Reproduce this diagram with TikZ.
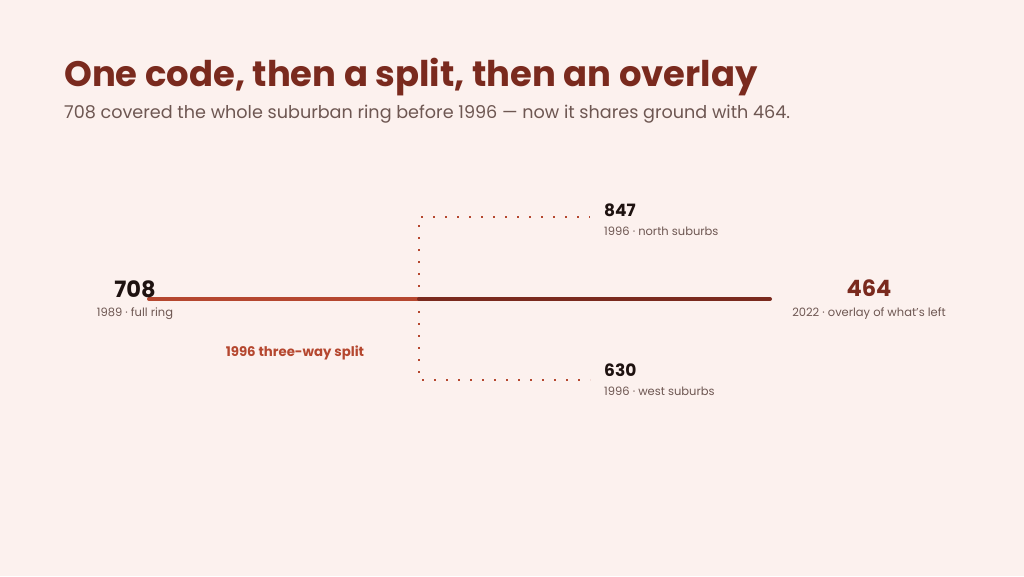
\documentclass[tikz,border=0pt]{standalone}
\usepackage{fontspec}
\setmainfont{Poppins}
\usetikzlibrary{positioning}
\definecolor{bgc}{HTML}{FCF1EE}
\definecolor{darkred}{HTML}{7A2A1E}
\definecolor{rust}{HTML}{B5472F}
\definecolor{subgray}{HTML}{6E5752}
\definecolor{ink}{HTML}{1E1210}
\tikzset{
  code/.style={font=\fontsize{22.5}{25}\selectfont\bfseries,text=ink,inner sep=0pt},
  note/.style={font=\fontsize{11.5}{13}\selectfont,text=subgray,inner sep=0pt},
  dots/.style={rust,line width=2.4pt,dash pattern=on 2.4pt off 9.6pt}
}
\begin{document}
\begin{tikzpicture}[x=1pt,y=-1pt]
  \fill[bgc] (0,0) rectangle (1024,576);
  \useasboundingbox (0,0) rectangle (1024,576);
  % heading
  \node[anchor=base west,inner sep=0pt,text=darkred,font=\fontsize{35.4}{40}\selectfont\bfseries] (title) at (64,86) {One code, then a split, then an overlay};
  \node[anchor=base west,inner sep=0pt,text=subgray,font=\fontsize{17.6}{20}\selectfont] (sub) at (64,118) {708 covered the whole suburban ring before 1996 — now it shares ground with 464.};
  % timeline
  \coordinate (start) at (149,299);
  \coordinate (split) at (419,299);
  \coordinate (end) at (770,299);
  \coordinate (north) at (419,217);
  \coordinate (northend) at (590,217);
  \coordinate (west) at (419,380);
  \coordinate (westend) at (590,380);
  \draw[dots] (split) -- (north) -- (northend);
  \draw[dots] (split) -- (west) -- (westend);
  \draw[rust,line width=4pt,line cap=round] (start) -- (split);
  \draw[darkred,line width=4pt,line cap=round] (split) -- (end);
  % labels
  \node[code,anchor=base] (c708) at (135,297) {708};
  \node[note,anchor=base] (n708) at (135,316) {1989 · full ring};
  \node[anchor=base,inner sep=0pt,text=rust,font=\fontsize{13.3}{15}\selectfont\bfseries] (lsplit) at (295,356) {1996 three-way split};
  \node[code,anchor=base west,font=\fontsize{17}{20}\selectfont\bfseries] (c847) at (604,216) {847};
  \node[note,anchor=base west] (n847) at (604,235) {1996 · north suburbs};
  \node[code,anchor=base west,font=\fontsize{17}{20}\selectfont\bfseries] (c630) at (604,376) {630};
  \node[note,anchor=base west] (n630) at (604,395) {1996 · west suburbs};
  \node[code,anchor=base,text=darkred] (c464) at (869,296) {464};
  \node[note,anchor=base] (n464) at (869,316) {2022 · overlay of what's left};
\end{tikzpicture}
\end{document}
